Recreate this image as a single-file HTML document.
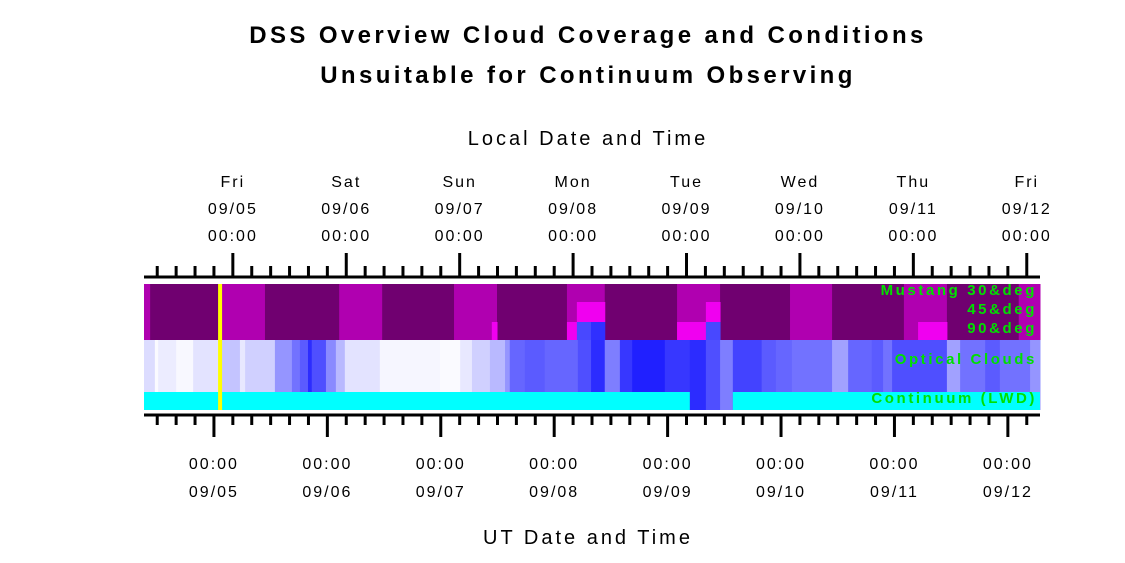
<!DOCTYPE html>
<html><head><meta charset="utf-8"><style>
body{margin:0;background:#fff;}
svg{display:block;font-family:"Liberation Sans",Arial,sans-serif;}
</style></head><body>
<svg id="chart" width="1125" height="563" viewBox="0 0 1125 563">
<text x="588" y="43" text-anchor="middle" font-size="24" font-weight="bold" letter-spacing="3.4">DSS Overview Cloud Coverage and Conditions</text>
<text x="588" y="83" text-anchor="middle" font-size="24" font-weight="bold" letter-spacing="3.4">Unsuitable for Continuum Observing</text>
<text x="588" y="145" text-anchor="middle" font-size="20" letter-spacing="3">Local Date and Time</text>
<text x="588" y="544" text-anchor="middle" font-size="20" letter-spacing="3">UT Date and Time</text>
<g id="bands"></g>
<g id="axes"></g>
<g id="labels" font-weight="bold" fill="#00e000" font-size="15" text-anchor="end" letter-spacing="2.6">
<text x="1037" y="295">Mustang 30&amp;deg</text>
<text x="1037" y="314">45&amp;deg</text>
<text x="1037" y="333">90&amp;deg</text>
<text x="1037" y="364">Optical Clouds</text>
<text x="1037" y="403">Continuum (LWD)</text>
</g>
</svg>
<script>
// hours since 09/04 00:00 UT
const hStart = 9.2, hEnd = 198.8;
const mustangBaseStarts = [9.2,10.5,25.7,34.8,50.5,59.6,74.8,83.9,98.7,106.7,122.0,131.1,145.9,154.8,170.0,179.1,194.3];
const mustangBaseLevels = [1,0,1,0,1,0,1,0,1,0,1,0,1,0,1,0,1];
const row45Overrides = [[100.8,106.7,2],[128.1,131.1,2]];
const row90Overrides = [[82.8,83.9,2],[98.7,100.8,2],[100.8,103.8,4],[103.8,106.7,3],[122.0,128.1,2],[128.1,131.1,4],[173.0,179.1,2]];
const opticalStarts = [9.2,11.5,12.2,16.0,19.6,25.7,29.5,30.6,36.9,40.5,42.2,43.9,44.7,47.7,49.8,51.7,59.1,71.8,76.1,78.6,82.4,85.6,86.6,89.8,94.0,101.0,103.8,106.7,109.9,112.5,119.4,124.7,128.1,131.1,133.8,139.9,142.9,146.3,154.8,158.2,163.2,165.6,167.5,179.1,181.9,187.2,190.3,196.7];
const opticalValues = [0.15,0.02,0.08,0.03,0.12,0.25,0.1,0.2,0.45,0.6,0.7,0.9,0.75,0.5,0.3,0.12,0.04,0.02,0.1,0.2,0.3,0.45,0.65,0.7,0.65,0.75,0.9,0.55,0.85,0.95,0.85,0.9,0.75,0.55,0.8,0.7,0.65,0.6,0.4,0.65,0.7,0.6,0.75,0.4,0.6,0.7,0.6,0.45];
const continuumGaps = [[124.7,133.8]];
const nowHour = 25.3;
const localDays = ["Fri","Sat","Sun","Mon","Tue","Wed","Thu","Fri"];
const dates = ["09/05","09/06","09/07","09/08","09/09","09/10","09/11","09/12"];
const localOffset = 4;

const X0=144, X1=1040;
const x = h => X0 + (h-hStart)/(hEnd-hStart)*(X1-X0);
const NS="http://www.w3.org/2000/svg";
const bands=document.getElementById('bands'), axes=document.getElementById('axes');
const levelColors=['#700070','#b000b0','#f000f0','#3030ff','#4848ff'];
function rect(g,x1,x2,y,h,fill,name){
  const r=document.createElementNS(NS,'rect');
  r.setAttribute('x',x1);r.setAttribute('y',y);r.setAttribute('width',Math.max(0,x2-x1));r.setAttribute('height',h);r.setAttribute('fill',fill);
  
  
  g.appendChild(r);
}
function line(x1,y1,x2,y2,w,name){
  const l=document.createElementNS(NS,'line');
  l.setAttribute('x1',x1);l.setAttribute('y1',y1);l.setAttribute('x2',x2);l.setAttribute('y2',y2);l.setAttribute('stroke','#000');l.setAttribute('stroke-width',w);
  
  
  axes.appendChild(l);
}
function txt(xx,yy,s,name){
  const t=document.createElementNS(NS,'text');
  t.setAttribute('x',xx);t.setAttribute('y',yy);t.setAttribute('text-anchor','middle');t.setAttribute('font-size','16');t.setAttribute('letter-spacing','2');
  t.textContent=s;
  
  
  axes.appendChild(t);
}
// optical strip (drawn full height 340-410 so continuum gaps show it)
opticalStarts.forEach((s,i)=>{
  const e = i+1<opticalStarts.length?opticalStarts[i+1]:hEnd;
  const c=Math.round(255-235*opticalValues[i]);
  rect(bands,x(s),x(e)+0.5,340,70,`rgb(${c},${c},255)`,'optical-cloud-cell');
});
// continuum
let cs=hStart;
continuumGaps.forEach(g=>{rect(bands,x(cs),x(g[0]),392,18,'#00ffff','continuum-ok-segment');cs=g[1];});
rect(bands,x(cs),x(hEnd),392,18,'#00ffff','continuum-ok-segment');
// mustang rows
const rows=[[284,18,[]],[302,20,row45Overrides],[322,18,row90Overrides]];
rows.forEach((r,ri)=>{
  mustangBaseStarts.forEach((s,i)=>{
    const e=i+1<mustangBaseStarts.length?mustangBaseStarts[i+1]:hEnd;
    rect(bands,x(s),x(e)+0.5,r[0],r[1],levelColors[mustangBaseLevels[i]],'mustang-cell');
  });
  r[2].forEach(o=>rect(bands,x(o[0]),x(o[1])+0.5,r[0],r[1],levelColors[o[2]],'mustang-override-cell'));
});
// now marker
rect(bands,x(nowHour)-2,x(nowHour)+2,284,126,'#ffff00','current-time-marker');
// axes
line(X0,277,X1,277,3,'top-axis-line');
line(X0,415,X1,415,3,'bottom-axis-line');
for(let h=Math.ceil(hStart/4)*4; h<=hEnd; h+=4){
  const major=h%24===0;
  line(x(h),415,x(h),major?437:425,3,major?'ut-major-tick':'ut-minor-tick');
  const lh=h; const lmaj=(h-localOffset)%24===0;
  line(x(h),277,x(h),lmaj?253:266,3,lmaj?'local-major-tick':'local-minor-tick');
}
dates.forEach((d,i)=>{
  const hu=24*(i+1);
  txt(x(hu),469,'00:00','ut-time-label');
  txt(x(hu),497,d,'ut-date-label');
  const hl=hu+localOffset;
  txt(x(hl),187,localDays[i],'local-day-label');
  txt(x(hl),214,d,'local-date-label');
  txt(x(hl),241,'00:00','local-time-label');
});
</script>
</body></html>
